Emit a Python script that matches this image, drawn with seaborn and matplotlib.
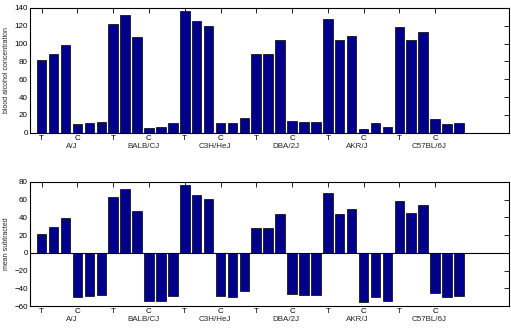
import matplotlib
matplotlib.use("Agg")
import matplotlib.pyplot as plt
import seaborn as sns
import numpy as np

# Data
strains = ["A/J", "BALB/CJ", "C3H/HeJ", "DBA/2J", "AKR/J", "C57BL/6J"]
group_labels = ["T", "C"]
blood_alcohol = [81, 88.5, 98.5, 9.5, 11, 12,
                 122.5, 131.5, 107, 5, 6, 11,
                 136, 125.5, 120, 11, 10.5, 17,
                 88, 88, 103.5, 13, 12.5, 12.5,
                 127.5, 104, 109, 4, 10.5, 6,
                 118.5, 104.5, 113.5, 15, 10, 11]
mean_subtracted = [21.2, 28.7, 38.7, -50.3, -48.8, -47.8,
                   62.7, 71.7, 47.2, -54.8, -53.8, -48.8,
                   76.2, 65.7, 60.2, -48.8, -49.3, -42.8,
                   28.2, 28.2, 43.7, -46.8, -47.3, -47.3,
                   67.7, 44.2, 49.2, -55.8, -49.3, -53.8,
                   58.7, 44.7, 53.7, -44.8, -49.8, -48.8]

# Style
sns.set_style("white")
plt.rcParams["font.family"] = ["Liberation Sans", "DejaVu Sans"]
bar_color = "#00008B"

fig = plt.figure(figsize=(5.11, 3.30), dpi=100)
ax1 = fig.add_axes([0.0587, 0.598, 0.9374, 0.378])
ax2 = fig.add_axes([0.0587, 0.0727, 0.9374, 0.3763])

pos = np.arange(len(blood_alcohol))
tick_pos = []
tick_lab = []
for g in range(len(strains)):
    tick_pos += [g * 6, g * 6 + 3]
    tick_lab += group_labels
centers = [g * 6 + 2.5 for g in range(len(strains))]


def draw(ax, vals, ylim, yticks, ylabel):
    sns.barplot(x=pos, y=vals, native_scale=True, color=bar_color,
                saturation=1, width=0.8, edgecolor="black", linewidth=0.5,
                ax=ax)
    ax.set_xlim(-0.98, 39.2)
    ax.set_ylim(*ylim)
    ax.set_yticks(yticks)
    ax.set_xticks(tick_pos)
    ax.set_xticklabels(tick_lab)
    ax.tick_params(axis="both", which="major", direction="in", length=3.5,
                   width=0.6, labelsize=5.8, top=True, right=True, pad=1.5,
                   colors="black")
    # strain names under each T/C pair
    for c, s in zip(centers, strains):
        ax.text(c, -0.107, s, transform=ax.get_xaxis_transform(),
                ha="center", va="center", fontsize=5.8)
    ax.set_ylabel(ylabel, fontsize=5, labelpad=3)
    ax.set_xlabel("")
    for sp in ax.spines.values():
        sp.set_visible(True)
        sp.set_color("black")
        sp.set_linewidth(0.8)


draw(ax1, blood_alcohol, (0, 140), np.arange(0, 141, 20),
     "blood alcohol concentration")
draw(ax2, mean_subtracted, (-60, 80), np.arange(-60, 81, 20),
     "mean subtracted")
ax2.axhline(0, color="black", lw=0.8, zorder=0.5)

fig.savefig("out.png", dpi=100)
